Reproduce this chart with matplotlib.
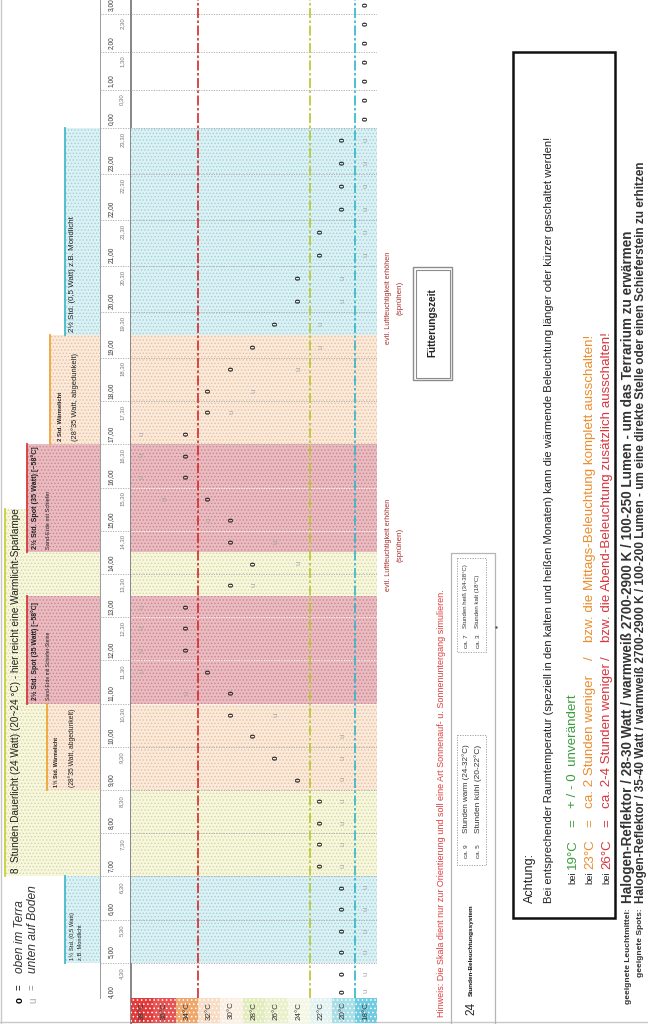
import numpy as np
import matplotlib
matplotlib.use("Agg")
import matplotlib.pyplot as plt
from matplotlib.patches import Rectangle
from matplotlib.transforms import blended_transform_factory

plt.rcParams['font.family'] = ['Liberation Sans', 'DejaVu Sans']
plt.rcParams['hatch.linewidth'] = 0.6

# temperature columns, left to right
temps = [38, 36, 34, 32, 30, 28, 26, 24, 22, 20, 18]
temp_colors = ['#e23b3b', '#e65353', '#eea66b', '#f8ddc6', '#fbefe2', '#e2ecbc',
               '#e9f0cb', '#f4f7e4', '#e3f3f1', '#a8dee8', '#70cbe0']

# half-hour slots from 4,00 to 3,30
hours = list(range(4, 24)) + list(range(0, 4))
slot_labels = [f"{h},{m}" for h in hours for m in ("00", "30")]

# o = oben im Terrarium, u = unten auf Boden (temperature per slot)
oben = [20, 20, 20, 20, 20, 20, 22, 22, 22, 22, 24, 26, 28, 30,
        30, 32, 34, 34, 34, 30, 28, 30, 30, 32, 34, 34, 34, 32, 32, 30,
        28, 26, 24, 24, 22, 22, 20, 20, 20, 20,
        18, 18, 18, 18, 18, 18, 18, 18]
unten = [18, 18, 18, 18, 18, 18, 20, 20, 20, 20, 20, 20, 20, 26,
         34, 38, 38, 38, 38, 28, 24, 26, 32, 36, 38, 38, 38, 30, 28, 24,
         22, 22, 20, 20, 18, 18, 18, 18, 18, 18,
         None, None, None, None, None, None, None, None]

# light phases (first slot, end slot, kind)
phase_start = [2, 6, 10, 14, 19, 21, 26, 31]
phase_end = [6, 10, 14, 19, 21, 26, 31, 40]
phase_kind = ['mond', 'dauer', 'waerme', 'spot', 'dauer', 'spot', 'waerme', 'mond']

face = {'mond': '#dcf1f4', 'dauer': '#f7f7de', 'waerme': '#fbe9da', 'spot': '#eabbc0'}
dots = {'mond': '#9ed2dc', 'dauer': '#d6d6a2', 'waerme': '#e4c09f', 'spot': '#c7878f'}
line = {'mond': '#45b9c9', 'dauer': '#c5d23c', 'waerme': '#f0a53a', 'spot': '#d33b3b'}

# header boxes left of the time column
head_start = [6, 2, 10, 14, 21, 26, 31]
head_end = [23, 6, 14, 19, 26, 31, 40]
head_x = [5, 65, 47, 27, 27, 50, 65]
head_kind = ['dauer', 'mond', 'waerme', 'spot', 'spot', 'waerme', 'mond']
head_text = [
    [("8  Stunden Dauerlicht (24 Watt) (20~24 °C) - hier reicht eine Warmlicht-Sparlampe", 16, 372, 'normal')],
    [("1½ Std. (0,5 Watt)", 72, 48, 'normal'), ("z.B. Mondlicht", 80, 36, 'normal')],
    [("1½ Std. Wärmelicht", 57, 50, 'bold'), ("(28°35 Watt, abgedunkelt)", 72, 80, 'normal')],
    [("2½ Std. Spot (35 Watt) [~58°C]", 35, 100, 'bold'), ("Sand-Erde mit Schiefer-Steine", 48, 70, 'normal')],
    [("2½ Std. Spot (35 Watt) [~58°C]", 35, 104, 'bold'), ("Sand-Erde mit Schiefer", 48, 60, 'normal')],
    [("2 Std. Wärmelicht", 60, 50, 'bold'), ("(28°35 Watt, abgedunkelt)", 75, 88, 'normal')],
    [("2½ Std. (0,5 Watt) z.B. Mondlicht", 72, 118, 'normal')],
]

# pixel rows of slot edges (spreadsheet column widths)
K = np.array([-1, 0, 1, 30, 40, 48])
P = np.array([1023, 998, 984.4, 358, 128, -24])


def fwd(k):
    return -np.interp(k, K, P)


def inv(v):
    return np.interp(-v, P[::-1], K[::-1])


fig = plt.figure(figsize=(6.48, 10.24), dpi=100)
bg = fig.add_axes([0, 0, 1, 1])
bg.set_xlim(0, 648)
bg.set_ylim(1024, 0)
bg.axis('off')

ax = fig.add_axes([131 / 648, 1 / 1024, 246 / 648, (1023 + 24) / 1024])
ax.set_xlim(39, 17)
ax.set_yscale('function', functions=(fwd, inv))
ax.set_ylim(-1, 48)
ax.axis('off')
bt = blended_transform_factory(bg.transData, ax.transData)
renderer = fig.canvas.get_renderer()


def fit(t, length):
    bb = t.get_window_extent(renderer)
    t.set_fontsize(t.get_fontsize() * length / bb.height)
    return t


def vtext(x, y, s, **kw):
    # vertical text in pixel coords, reading upwards from y
    kw.setdefault('ha', 'center')
    kw.setdefault('va', 'bottom')
    return bg.text(x, y, s, rotation=90, **kw)


# light phase bands
for s, e, kind in zip(phase_start, phase_end, phase_kind):
    ax.add_patch(Rectangle((39, s), -22, e - s, facecolor=face[kind], edgecolor=dots[kind],
                           hatch='.....', lw=0, zorder=1))

# hour grid
for k in range(2, 48, 2):
    in_spot = any(s <= k < e and kd == 'spot' for s, e, kd in zip(phase_start, phase_end, phase_kind))
    ax.plot([17, 39], [k, k], color='#ffffff' if in_spot else '#a8a8a8', lw=0.6,
            ls=(0, (1.5, 1.5)), zorder=2)
    bg.plot([100, 131], [k, k], color='#a8a8a8', lw=0.6, ls=(0, (1.5, 1.5)), transform=bt, zorder=2)

# temperature label row
for t, c in zip(temps, temp_colors):
    ax.add_patch(Rectangle((t + 1, -1), -2, 1, facecolor=c, edgecolor='#ffffff', hatch='....',
                           lw=0, zorder=1))
    ax.text(t, -0.5, f"{t}°C", rotation=90, ha='center', va='center', fontsize=5.8,
            color='#333333', zorder=4)

# dash-dot limit lines
for xv, c in [(33, '#d42a2a'), (23, '#b9c62c'), (19, '#2fb6c6')]:
    ax.plot([xv, xv], [0, 48], color=c, lw=1.2, dashes=(6, 1.5, 1.5, 1.5), zorder=3)

# frame lines
bg.plot([131, 131], [1024, 0], color='#666666', lw=1.1, zorder=3)
bg.plot([100, 100], [998, 0], color='#9a9a9a', lw=0.7, zorder=1)
bg.plot([1, 1], [0, 1024], color='#c8c8c8', lw=1)
bg.plot([0, 648], [1022, 1022], color='#c8c8c8', lw=1)

# time labels
for k, lab in enumerate(slot_labels):
    if -fwd(k + 0.5) < -4:
        continue
    if k % 2 == 0:
        bg.text(111, k + 0.5, lab, rotation=90, ha='center', va='center', fontsize=4.8,
                color='#3a3a3a', transform=bt)
    else:
        bg.text(122, k + 0.5, lab, rotation=90, ha='center', va='center', fontsize=4.3,
                color='#777777', transform=bt)

# markers
for k, (o, u) in enumerate(zip(oben, unten)):
    if u is not None:
        ax.text(u, k + 0.5, 'u', rotation=90, ha='center', va='center', fontsize=5.5,
                color='#a6a6a6', zorder=5)
    if o is not None:
        ax.text(o, k + 0.5, '0', rotation=90, ha='center', va='center', fontsize=6,
                fontweight='bold', color='#222222', zorder=6)

# header boxes
for s, e, x0, kind, texts in zip(head_start, head_end, head_x, head_kind, head_text):
    bg.add_patch(Rectangle((x0, s), 100 - x0, e - s, facecolor=face[kind], edgecolor=dots[kind],
                           hatch='.....', lw=0, transform=bt, zorder=1))
    bg.plot([x0, x0], [s, e], color=line[kind], lw=1.3, transform=bt, zorder=2)
    for txt, tx, length, fw in texts:
        t = bg.text(tx, s + 0.15, txt, rotation=90, ha='center', va='bottom', fontsize=5,
                    fontweight=fw, color='#222222', transform=bt, zorder=3)
        fit(t, length)

# legend
vtext(20, 1000, "o", va='center', fontsize=7, fontweight='bold')
vtext(20, 987, "=", va='center', fontsize=7)
fit(vtext(20, 973, "oben im Terra", fontsize=7, style='italic', color='#333333'), 73)
vtext(33, 1000, "u", va='center', fontsize=7, color='#a6a6a6')
vtext(33, 987, "=", va='center', fontsize=7, color='#888888')
fit(vtext(33, 973, "unten auf Boden", fontsize=7, style='italic', color='#333333'), 88)

# notes right of chart
fit(vtext(442, 1017, "Hinweis: Die Skala dient nur zur Orientierung und soll eine Art "
          "Sonnenauf- u. Sonnenuntergang simulieren.", fontsize=6, color='#d9413e'), 432)
for yc in [545, 298]:
    fit(vtext(388, yc, "evtl. Luftfeuchtigkeit erhöhen", va='center', fontsize=6,
              color='#a8322d'), 95)
    vtext(400, yc, "(sprühen)", va='center', fontsize=5.8, color='#a8322d')

# Fuetterungszeit box
bg.add_patch(Rectangle((413, 267), 39, 113, fill=False, ec='#8c8c8c', lw=1))
bg.add_patch(Rectangle((415.5, 269.5), 34, 108, fill=False, ec='#8c8c8c', lw=0.8))
fit(vtext(432, 323, "Fütterungszeit", va='center', fontsize=7, fontweight='bold',
          color='#222222'), 70)

# 24 Stunden box
bg.plot([451, 451, 495, 495], [1024, 553, 553, 1024], color='#b5b5b5', lw=0.9)
vtext(471, 1008, "24", va='center', fontsize=8.5, color='#222222')
fit(vtext(471, 996, "Stunden-Beleuchtungssystem", fontsize=5, fontweight='bold',
          color='#111111'), 92)
bg.add_patch(Rectangle((457, 735), 29, 130, fill=False, ec='#999999', lw=0.6, ls=(0, (1.5, 1.5))))
bg.add_patch(Rectangle((457, 558), 29, 94, fill=False, ec='#999999', lw=0.6, ls=(0, (1.5, 1.5))))
for tx, a, b in [(466, "ca. 9", "Stunden warm (24-32°C)"), (478, "ca. 5", "Stunden kühl (20-22°C)")]:
    vtext(tx, 858, a, fontsize=4.6, color='#333333')
    fit(vtext(tx, 833, b, fontsize=4.6, color='#333333'), 88)
for tx, a, b in [(466, "ca. 7", "Stunden heiß (34-38°C)"), (478, "ca. 3", "Stunden kalt (18°C)")]:
    vtext(tx, 648, a, fontsize=4.6, color='#333333')
    fit(vtext(tx, 628, b, fontsize=4.6, color='#333333'), 64 if '34' in b else 54)
bg.plot([496], [627], marker='.', ms=1.5, color='#555555')

# Achtung box
bg.add_patch(Rectangle((513, 52), 102, 866, fill=False, ec='#111111', lw=1.8))
fit(vtext(530, 903, "Achtung:", fontsize=8, color='#222222'), 50)
fit(vtext(549, 903, "Bei entsprechender Raumtemperatur (speziell in den kalten und heißen "
          "Monaten) kann die wärmende Beleuchtung länger oder kürzer geschaltet werden!",
          fontsize=8, color='#222222'), 771)

rows_x = [573, 590, 607]
rows_temp = ["19°C", "23°C", "26°C"]
rows_color = ['#3c9c3c', '#ec8c2c', '#d8343c']
rows_a = ["+ / - 0  unverändert", "ca. 2 Stunden weniger", "ca. 2-4 Stunden weniger"]
rows_b = [None, "bzw. die Mittags-Beleuchtung komplett ausschalten!",
          "bzw. die Abend-Beleuchtung zusätzlich ausschalten!"]
row_fs = 9.6
for x, tmp, c, a, b in zip(rows_x, rows_temp, rows_color, rows_a, rows_b):
    vtext(x, 884, "bei", fontsize=6.8, color='#222222')
    vtext(x, 869, tmp, fontsize=row_fs, color=c)
    vtext(x, 823, "=", va='center', fontsize=row_fs, color=c)
    vtext(x, 808, a, fontsize=row_fs, color=c)
    if b is not None:
        vtext(x, 658, "/", va='center', fontsize=row_fs, color=c)
        vtext(x, 642, b, fontsize=row_fs, color=c)

# lamp notes
note_font = ['Liberation Sans Narrow', 'Liberation Sans']
for x, lab, rest, length in [
        (628, "geeignete Leuchtmittel:", "Halogen-Reflektor / 28-30 Watt / warmweiß 2700-2900 K / "
         "100-250 Lumen - um das Terrarium zu erwärmen", 681),
        (641, "geeignete Spots:", "Halogen-Reflektor / 35-40 Watt / warmweiß 2700-2900 K / "
         "100-200 Lumen - um eine direkte Stelle oder einen Schieferstein zu erhitzen", 746)]:
    fit(vtext(x, 908, lab, va='top', fontsize=6.6, fontweight='bold', color='#333333',
              family=note_font), 95 if 'Leucht' in lab else 68)
    fit(vtext(x, 903, rest, fontsize=6.2, fontweight='bold', color='#333333',
              family=note_font), length)

fig.savefig("out.png", dpi=100)
